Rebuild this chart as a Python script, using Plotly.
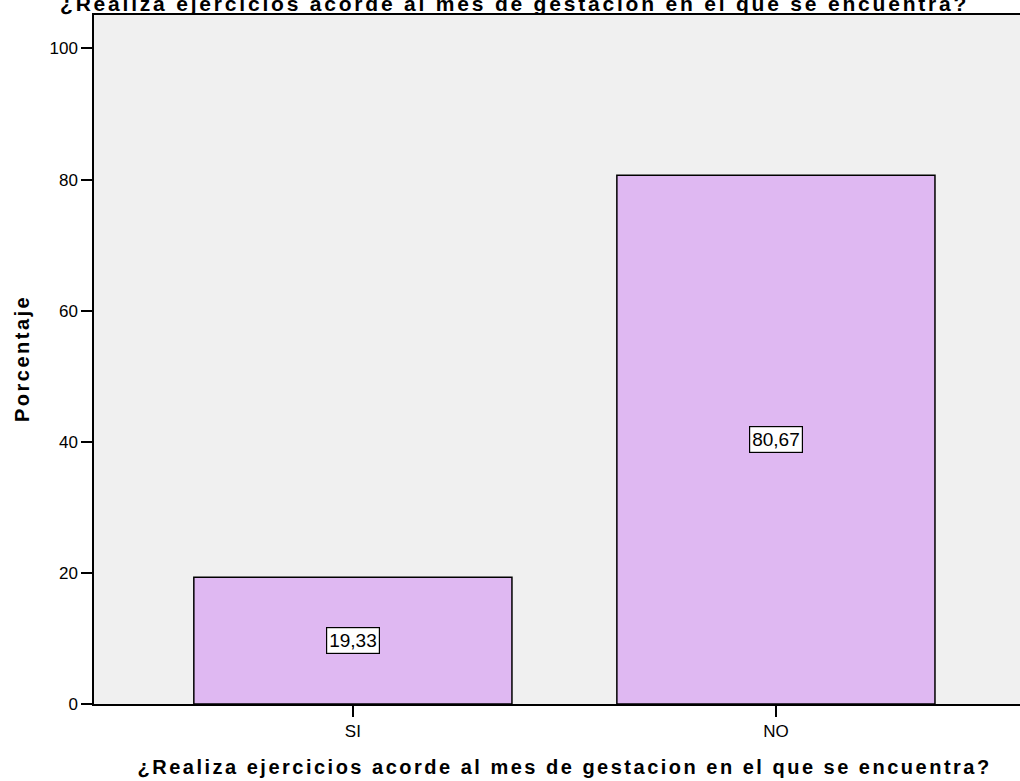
import plotly.graph_objects as go

# Frequency table: share of respondents per answer
categories = ["SI", "NO"]
percentages = [19.33, 80.67]
value_labels = ["19,33", "80,67"]
y_ticks = [0, 20, 40, 60, 80, 100]

question = "¿Realiza ejercicios acorde al mes de gestacion en el que se encuentra?"
y_title = "Porcentaje"

FONT = "Liberation Sans, Arial, sans-serif"
BAR_FILL = "#DFB8F2"

fig = go.Figure()
fig.add_trace(go.Bar(
    x=categories,
    y=percentages,
    width=0.752,
    marker=dict(color=BAR_FILL, line=dict(color="#000000", width=1.5)),
    hoverinfo="skip",
))

# value boxes centred halfway up each bar
for cat, val, lab in zip(categories, percentages, value_labels):
    fig.add_annotation(
        x=cat, y=val / 2, xref="x", yref="y",
        text=lab, showarrow=False,
        font=dict(family=FONT, size=19, color="#000000"),
        bgcolor="#FFFFFF", bordercolor="#000000", borderwidth=1.2, borderpad=2,
    )

# axis titles and the chart heading (partly above the page edge)
fig.add_annotation(
    x=-0.078, y=0.501, xref="paper", yref="paper",
    text=f"<b>{y_title}</b>", textangle=-90, showarrow=False,
    font=dict(family=FONT, size=20, color="#000000"),
    xanchor="center", yanchor="middle",
)
fig.add_annotation(
    x=0.5076, y=-0.0912, xref="paper", yref="paper",
    text=f"<b>{question}</b>", showarrow=False,
    font=dict(family=FONT, size=20, color="#000000"),
    xanchor="center", yanchor="middle",
)
fig.add_annotation(
    x=0.4546, y=0.9965, xref="paper", yref="paper",
    text=f"<b>{question}</b>", showarrow=False,
    font=dict(family=FONT, size=21, color="#000000"),
    xanchor="center", yanchor="bottom",
)

fig.update_layout(
    width=1020, height=781,
    margin=dict(l=94, r=0, t=15, b=77),
    paper_bgcolor="#FFFFFF",
    plot_bgcolor="#F0F0F0",
    showlegend=False,
    font=dict(family=FONT, size=17, color="#000000"),
)
fig.update_xaxes(
    range=[-0.612, 1.577],
    showline=True, linecolor="#000000", linewidth=1.5, mirror=True,
    ticks="outside", ticklen=11, tickwidth=1.5, tickcolor="#000000",
    showgrid=False, zeroline=False,
    tickfont=dict(family=FONT, size=17),
)
fig.update_yaxes(
    range=[0, 105.1],
    tickvals=y_ticks,
    showline=True, linecolor="#000000", linewidth=1.5, mirror=False,
    ticks="outside", ticklen=11, tickwidth=1.5, tickcolor="#000000",
    showgrid=False, zeroline=False,
    tickfont=dict(family=FONT, size=17),
)

# widen the tracking of the long title texts
spacing_js = """
(function(){
  var gd = document.getElementById('{plot_id}');
  function track(){
    gd.querySelectorAll('.annotation-text').forEach(function(t){
      var n = t.textContent.length;
      var st = t.getAttribute('style') || '';
      if (n > 9) { t.style.letterSpacing = st.indexOf('21px') >= 0 ? '2.8px' : '2.5px'; }
    });
  }
  track();
  setTimeout(track, 0);
  if (gd.on) { gd.on('plotly_afterplot', track); }
})();
"""

fig.write_html("out.html", post_script=spacing_js)
